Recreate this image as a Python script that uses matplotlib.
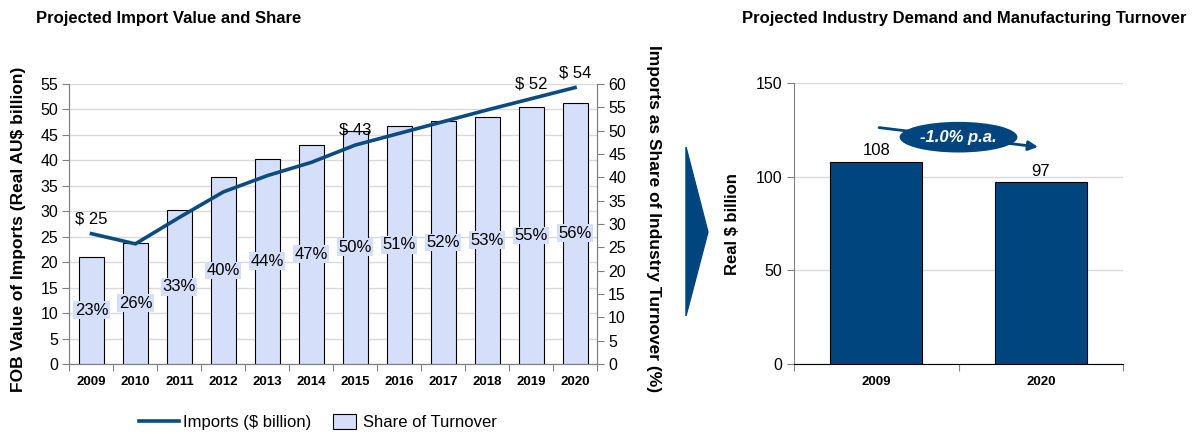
import numpy as np
import matplotlib
matplotlib.use("Agg")
import matplotlib.pyplot as plt
from matplotlib.patches import Polygon
from matplotlib.lines import Line2D
from matplotlib.patches import Patch

plt.rcParams['font.family'] = ['Liberation Sans', 'DejaVu Sans']

# data
years = ['2009', '2010', '2011', '2012', '2013', '2014', '2015', '2016', '2017', '2018', '2019', '2020']
imports = [25.6, 23.6, 28.8, 33.8, 37.0, 39.6, 43.0, 45.3, 47.6, 49.9, 52.1, 54.3]
share = [23, 26, 33, 40, 44, 47, 50, 51, 52, 53, 55, 56]
labelled = {'2009': '$ 25', '2015': '$ 43', '2019': '$ 52', '2020': '$ 54'}

demand_years = ['2009', '2020']
demand = [108, 97]

navy = '#0B4B80'
dark = '#00457E'
light = '#D5DFFA'
grid_c = '#D9D9D9'
spine_c = '#808080'

fig = plt.figure(figsize=(12.02, 4.34), dpi=100)

# ---- left chart
ax = fig.add_axes([0.0578, 0.1613, 0.4389, 0.6452])
ax2 = ax.twinx()
ax3 = ax.twinx()
x = np.arange(len(years))

ax.set_ylim(0, 55)
ax.set_yticks(np.arange(0, 56, 5))
ax.set_xlim(-0.5, len(years) - 0.5)
ax.yaxis.grid(True, color=grid_c, lw=1)
ax.set_axisbelow(True)

ax2.bar(x, share, width=0.57, color=light, edgecolor='black', lw=0.8)
ax2.set_ylim(0, 60)
ax2.set_yticks(np.arange(0, 61, 5))
for xi, s in zip(x, share):
    ax2.text(xi, s / 2, f'{s}%', ha='center', va='center', fontsize=12,
             bbox=dict(facecolor=light, edgecolor='none', pad=1))

ax3.plot(x, imports, color=navy, lw=2.6)
ax3.set_ylim(0, 55)
ax3.axis('off')
for xi, yr, v in zip(x, years, imports):
    if yr in labelled:
        ax3.text(xi, v + 2.9, labelled[yr], ha='center', va='center', fontsize=12)

ax.set_xticks(np.arange(-0.5, len(years), 1))
ax.set_xticklabels([])
ax.set_xticks(x, minor=True)
ax.set_xticklabels(years, minor=True, fontsize=9.5, fontweight='bold')
ax.tick_params(axis='x', which='minor', length=0, pad=9)
ax.tick_params(axis='x', which='major', length=5, color=spine_c, direction='out')
ax.tick_params(axis='y', labelsize=11.5, length=5, color=spine_c, pad=3)
ax2.tick_params(axis='y', labelsize=11.5, length=5, color=spine_c, pad=3)
for a in (ax, ax2):
    a.spines['top'].set_visible(False)
    for s in ('left', 'right', 'bottom'):
        a.spines[s].set_color(spine_c)

fig.text(0.015, 0.4724, 'FOB Value of Imports (Real AU$ billion)', fontsize=12.5,
         fontweight='bold', rotation=90, ha='center', va='center')
fig.text(0.5433, 0.4954, 'Imports as Share of Industry Turnover (%)', fontsize=12.5,
         fontweight='bold', rotation=270, ha='center', va='center')

leg1 = fig.legend([Line2D([0], [0], color=navy, lw=2.6)], ['Imports ($ billion)'],
                  loc='center', bbox_to_anchor=(0.1876, 0.0276), frameon=False,
                  fontsize=12, handlelength=2.4, handletextpad=0.25)
leg2 = fig.legend([Patch(facecolor=light, edgecolor='black', lw=0.8)], ['Share of Turnover'],
                  loc='center', bbox_to_anchor=(0.345, 0.0276), frameon=False,
                  fontsize=12, handlelength=1.4, handleheight=1.0, handletextpad=0.4)

fig.text(0.030, 0.9585, 'Projected Import Value and Share', fontsize=12,
         fontweight='bold', va='center', ha='left')

# ---- chevron between charts
fig.patches.append(Polygon([[0.5707, 0.6613], [0.589, 0.4654], [0.5707, 0.2719]],
                           closed=True, transform=fig.transFigure, color=dark))

# ---- right chart
axr = fig.add_axes([0.6606, 0.1613, 0.2737, 0.6468])
xr = np.arange(len(demand_years))
axr.bar(xr, demand, width=0.56, color=dark, edgecolor='black', lw=0.8)
for xi, v in zip(xr, demand):
    axr.text(xi, v + 6, str(v), ha='center', va='center', fontsize=12)
axr.set_xlim(-0.5, 1.5)
axr.set_ylim(0, 150)
axr.set_yticks([0, 50, 100, 150])
axr.yaxis.grid(True, color=grid_c, lw=1)
axr.set_axisbelow(True)
axr.set_xticks([-0.5, 0.5, 1.5])
axr.set_xticklabels([])
axr.set_xticks(xr, minor=True)
axr.set_xticklabels(demand_years, minor=True, fontsize=9.5, fontweight='bold')
axr.tick_params(axis='x', which='minor', length=0, pad=9)
axr.tick_params(axis='x', which='major', length=5, color=spine_c)
axr.tick_params(axis='y', labelsize=11.5, length=5, color=spine_c)
axr.spines['top'].set_visible(False)
axr.spines['right'].set_visible(False)
axr.spines['left'].set_color(spine_c)
axr.spines['bottom'].set_color('black')
fig.text(0.6094, 0.4839, 'Real $ billion', fontsize=12, fontweight='bold',
         rotation=90, ha='center', va='center')

axr.annotate('', xy=(1.0, 115.8), xytext=(0.0, 126.5),
             arrowprops=dict(arrowstyle='-|>', color=dark, lw=2, mutation_scale=14))
axr.text(0.5, 121.2, '-1.0% p.a.', ha='center', va='center', fontsize=12,
         fontweight='bold', style='italic', color='white',
         bbox=dict(boxstyle='ellipse,pad=0.2', facecolor=dark, edgecolor='none'))

fig.text(0.802, 0.9585, 'Projected Industry Demand and Manufacturing Turnover', fontsize=12,
         fontweight='bold', va='center', ha='center')

fig.savefig('out.png', dpi=100)
